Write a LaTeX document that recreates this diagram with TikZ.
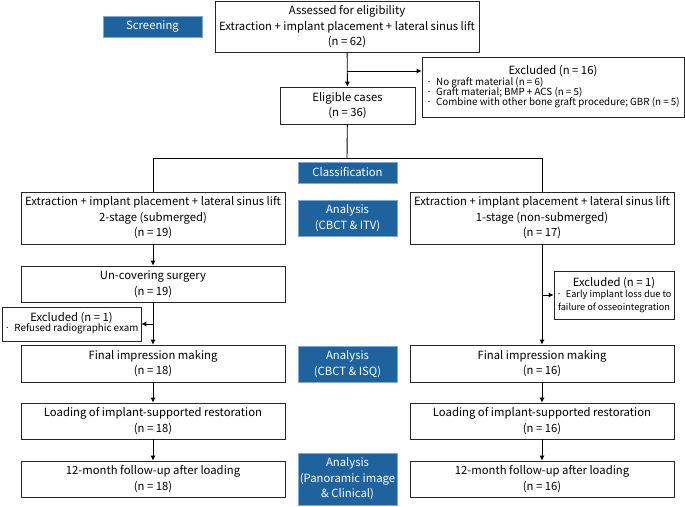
\documentclass[tikz,border=0pt]{standalone}
\usepackage{fontspec}
\setmainfont{Noto Sans CJK KR}
\usepackage{tikz}
\usetikzlibrary{positioning, calc, arrows.meta}
\definecolor{tagblue}{RGB}{31,99,158}
\tikzstyle{box}=[draw=black!85, line width=0.7pt, align=center, inner sep=0pt, minimum width=264pt, font=\fontsize{11.3}{15.5}\selectfont]
\tikzstyle{tag}=[fill=tagblue, draw=tagblue!55, line width=0.5pt, text=white, align=center, inner sep=0pt, minimum width=99pt, font=\fontsize{11.3}{15.5}\selectfont]
\tikzstyle{excl}=[draw=black!85, line width=0.7pt, inner sep=0pt, font=\fontsize{9.8}{13}\selectfont]
\tikzstyle{line}=[line width=0.9pt]
\tikzstyle{arrow}=[-{Latex[length=5pt,width=5pt]}, line width=0.9pt]
\newcommand{\exhead}[1]{\multicolumn{1}{c}{\fontsize{11.3}{15.5}\selectfont #1}}

\begin{document}
\begin{tikzpicture}[x=1pt, y=-1pt]
      \useasboundingbox (0,0) rectangle (685,506);

      % stage labels
      \node[tag, minimum height=21pt] (screen) at (152.5,26.5) {Screening};
      \node[tag, minimum height=21pt] (classif) at (347.5,172.5) {Classification};
      \node[tag, minimum height=36pt] (anal1) at (347.5,218) {Analysis\\(CBCT \& ITV)};
      \node[tag, minimum height=36pt] (anal2) at (347.5,364) {Analysis\\(CBCT \& ISQ)};
      \node[tag, minimum height=52pt] (anal3) at (347.5,479) {Analysis\\(Panoramic image\\\& Clinical)};

      % screening
      \node[box, minimum height=51pt] (assess) at (347,27) {Assessed for eligibility\\Extraction + implant placement + lateral sinus lift\\(n = 62)};
      \node[box, minimum width=135pt, minimum height=37pt] (elig) at (347.5,105.5) {Eligible cases\\(n = 36)};
      \node[excl, minimum width=262pt, minimum height=60pt] (excl1) at (553,87) {%
        \begin{tabular}{@{}l@{}}
          \exhead{Excluded (n = 16)}\\[-2pt]
          ·\ \ No graft material (n = 6)\\[-3pt]
          ·\ \ Graft material; BMP + ACS (n = 5)\\[-3pt]
          ·\ \ Combine with other bone graft procedure; GBR (n = 5)
        \end{tabular}};

      % two arms
      \node[box, minimum height=52pt] (left1) at (153,218) {Extraction + implant placement + lateral sinus lift\\2-stage (submerged)\\(n = 19)};
      \node[box, minimum height=52pt] (right1) at (542,218) {Extraction + implant placement + lateral sinus lift\\1-stage (non-submerged)\\(n = 17)};
      \node[box, minimum height=36pt] (uncov) at (153,284) {Un-covering surgery\\(n = 19)};
      \node[excl, minimum width=139pt, minimum height=34pt] (exclL) at (71.5,324) {%
        \begin{tabular}{@{}l@{}}
          \exhead{Excluded (n = 1)}\\[-3pt]
          ·\ \ Refused radiographic exam
        \end{tabular}};
      \node[excl, minimum width=120pt, minimum height=48pt, align=center, font=\fontsize{9.2}{13}\selectfont] (exclR) at (614,295) {%
        {\fontsize{11.3}{15.5}\selectfont Excluded (n = 1)}\\[-2pt]
        ·\ \ Early implant loss due to\\failure of osseointegration};
      \node[box, minimum height=37pt] (finL) at (153,363.5) {Final impression making\\(n = 18)};
      \node[box, minimum height=37pt] (finR) at (542,363.5) {Final impression making\\(n = 16)};
      \node[box, minimum height=36pt] (loadL) at (153,421) {Loading of implant-supported restoration\\(n = 18)};
      \node[box, minimum height=36pt] (loadR) at (542,421) {Loading of implant-supported restoration\\(n = 16)};
      \node[box, minimum height=36pt] (fuL) at (153,479) {12-month follow-up after loading\\(n = 18)};
      \node[box, minimum height=36pt] (fuR) at (542,479) {12-month follow-up after loading\\(n = 16)};

      \coordinate (split1) at (347,71);
      \coordinate (split2) at (347,158);
      \coordinate (splitL) at (153,324);
      \coordinate (splitR) at (542,295);

      \draw[arrow] (assess) -- (elig);
      \draw[arrow] (split1) -- (split1 -| excl1.west);
      \draw[line] (elig) -- (split2);
      \draw[line] (left1.north) -- (left1.north |- split2) -- (right1.north |- split2) -- (right1.north);

      \foreach \a/\b in {left1/uncov, uncov/finL, finL/loadL, loadL/fuL, right1/finR, finR/loadR, loadR/fuR}{
        \draw[arrow] (\a) -- (\b);
      }
      \draw[arrow] (splitL) -- (splitL -| exclL.east);
      \draw[arrow] (splitR) -- (splitR -| exclR.west);
    \end{tikzpicture}
\end{document}
